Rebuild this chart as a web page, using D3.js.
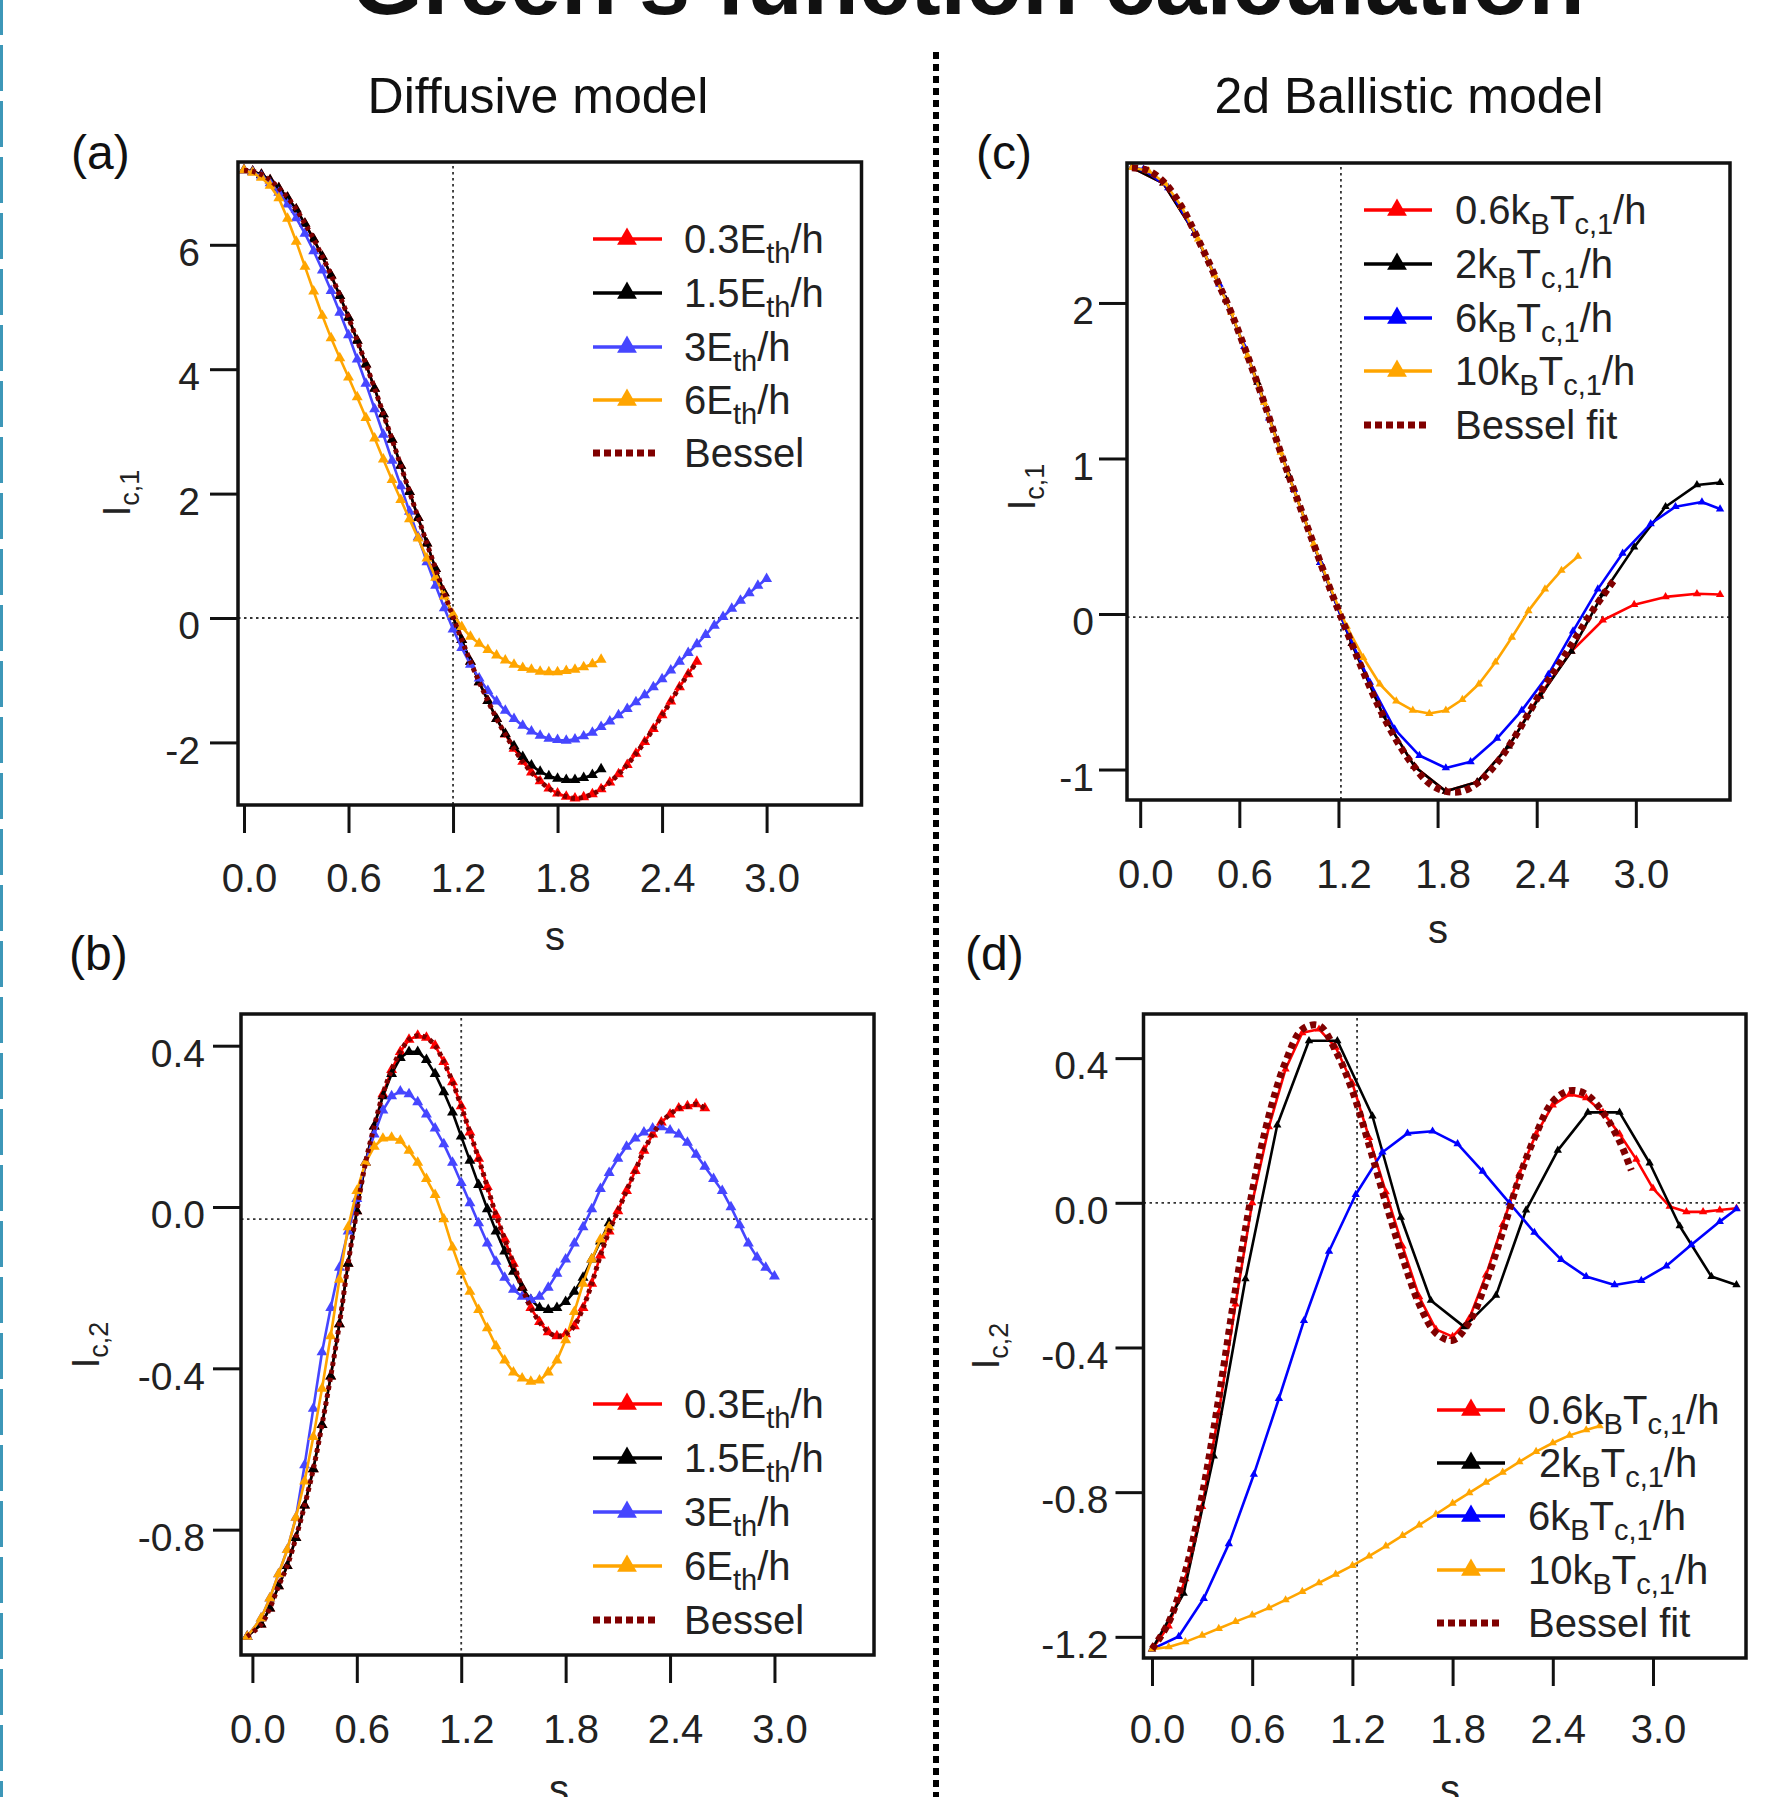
<!DOCTYPE html>
<html>
<head>
<meta charset="utf-8">
<script src="https://cdn.jsdelivr.net/npm/d3@7"></script>
<style>
  html, body { margin: 0; padding: 0; background: #fff; }
  svg { display: block; font-family: "Liberation Sans", Arial, Helvetica, sans-serif; }
  .ref { stroke: #333; stroke-width: 1.8; stroke-dasharray: 2.5 3.5; fill: none; }
</style>
</head>
<body>
<script>
// ---------- Data ----------

// Shared x ticks (s)
const xTicks = [0, 0.6, 1.2, 1.8, 2.4, 3.0];

// Panel (a): diffusive model, I_c,1 (s grid, step 0.05)
const sA = [0, 0.05, 0.1, 0.15, 0.2, 0.25, 0.3, 0.35, 0.4, 0.45, 0.5, 0.55, 0.6, 0.65, 0.7, 0.75, 0.8, 0.85, 0.9, 0.95,
  1, 1.05, 1.1, 1.15, 1.2, 1.25, 1.3, 1.35, 1.4, 1.45, 1.5, 1.55, 1.6, 1.65, 1.7, 1.75, 1.8, 1.85, 1.9, 1.95,
  2, 2.05, 2.1, 2.15, 2.2, 2.25, 2.3, 2.35, 2.4, 2.45, 2.5, 2.55, 2.6, 2.65, 2.7, 2.75, 2.8, 2.85, 2.9, 2.95, 3];
const aRed = [7.20, 7.18, 7.13, 7.04, 6.91, 6.76, 6.57, 6.34, 6.09, 5.81, 5.51, 5.18, 4.83, 4.46, 4.08, 3.69, 3.28, 2.87, 2.45, 2.03,
  1.61, 1.20, 0.79, 0.40, 0.02, -0.35, -0.70, -1.03, -1.33, -1.62, -1.87, -2.10, -2.31, -2.48, -2.62, -2.74, -2.82, -2.87, -2.90, -2.88,
  -2.83, -2.75, -2.64, -2.51, -2.36, -2.18, -1.99, -1.78, -1.56, -1.34, -1.11, -0.90, -0.70];
const aBlack = [7.20, 7.18, 7.13, 7.04, 6.91, 6.76, 6.57, 6.34, 6.09, 5.81, 5.51, 5.18, 4.83, 4.46, 4.08, 3.69, 3.28, 2.87, 2.45, 2.03,
  1.61, 1.20, 0.79, 0.40, 0.02, -0.35, -0.70, -1.03, -1.33, -1.62, -1.86, -2.06, -2.23, -2.37, -2.47, -2.54, -2.58, -2.60, -2.60, -2.57,
  -2.52, -2.43];
const aBlue = [7.20, 7.17, 7.10, 6.99, 6.84, 6.65, 6.43, 6.18, 5.90, 5.59, 5.26, 4.91, 4.55, 4.16, 3.77, 3.36, 2.95, 2.53, 2.12, 1.71,
  1.30, 0.90, 0.52, 0.16, -0.18, -0.48, -0.75, -0.97, -1.17, -1.34, -1.49, -1.62, -1.73, -1.82, -1.89, -1.94, -1.96, -1.97, -1.95, -1.90,
  -1.84, -1.75, -1.66, -1.56, -1.46, -1.35, -1.24, -1.11, -0.98, -0.84, -0.70, -0.56, -0.42, -0.27, -0.12, 0.02, 0.15, 0.28, 0.40, 0.52, 0.63];
const aOrange = [7.20, 7.16, 7.08, 6.95, 6.75, 6.42, 6.05, 5.65, 5.25, 4.86, 4.50, 4.18, 3.87, 3.55, 3.22, 2.89, 2.55, 2.22, 1.90, 1.59,
  1.28, 0.96, 0.65, 0.35, 0.06, -0.14, -0.30, -0.41, -0.51, -0.60, -0.68, -0.75, -0.80, -0.83, -0.86, -0.87, -0.87, -0.85, -0.83, -0.79,
  -0.74, -0.67];
const aBessel = [7.20, 7.18, 7.13, 7.04, 6.91, 6.76, 6.57, 6.34, 6.09, 5.81, 5.51, 5.18, 4.83, 4.46, 4.08, 3.69, 3.28, 2.87, 2.45, 2.03,
  1.61, 1.20, 0.79, 0.40, 0.02, -0.35, -0.70, -1.03, -1.33, -1.62, -1.87, -2.10, -2.31, -2.48, -2.62, -2.74, -2.82, -2.87, -2.90, -2.88,
  -2.83, -2.75, -2.64, -2.51, -2.36, -2.18, -1.99, -1.78, -1.56, -1.34, -1.11, -0.90, -0.70];
const yTicksA = [-2, 0, 2, 4, 6];

// Panel (b): diffusive model, I_c,2
const sB = [-0.03, 0.05, 0.1, 0.15, 0.2, 0.25, 0.3, 0.35, 0.4, 0.45, 0.5, 0.55, 0.6, 0.65, 0.7, 0.75, 0.8, 0.85, 0.9, 0.95,
  1, 1.05, 1.1, 1.15, 1.2, 1.25, 1.3, 1.35, 1.4, 1.45, 1.5, 1.55, 1.6, 1.65, 1.7, 1.75, 1.8, 1.85, 1.9, 1.95,
  2, 2.05, 2.1, 2.15, 2.2, 2.25, 2.3, 2.35, 2.4, 2.45, 2.5, 2.55, 2.6, 2.65, 2.7, 2.75, 2.8, 2.85, 2.9, 2.95, 3];
const bRed = [-1.065, -1.035, -0.995, -0.94, -0.89, -0.82, -0.74, -0.65, -0.54, -0.42, -0.29, -0.14, -0.01, 0.11, 0.20, 0.28, 0.34, 0.385, 0.415, 0.425,
  0.42, 0.40, 0.36, 0.31, 0.25, 0.185, 0.12, 0.05, -0.02, -0.08, -0.14, -0.20, -0.25, -0.285, -0.31, -0.32, -0.315, -0.295, -0.25, -0.19,
  -0.12, -0.06, -0.01, 0.04, 0.09, 0.14, 0.18, 0.21, 0.23, 0.245, 0.25, 0.255, 0.245];
const bBlack = [-1.065, -1.035, -0.995, -0.94, -0.89, -0.82, -0.74, -0.65, -0.54, -0.42, -0.29, -0.14, -0.01, 0.11, 0.20, 0.275, 0.33, 0.37, 0.385, 0.385,
  0.365, 0.33, 0.285, 0.235, 0.175, 0.115, 0.055, -0.005, -0.06, -0.11, -0.16, -0.20, -0.23, -0.25, -0.255, -0.25, -0.235, -0.21, -0.175, -0.13,
  -0.085, -0.04];
const bBlue = [-1.065, -1.02, -0.97, -0.91, -0.85, -0.77, -0.64, -0.50, -0.36, -0.25, -0.15, -0.06, 0.02, 0.11, 0.18, 0.24, 0.275, 0.287, 0.28, 0.26,
  0.23, 0.195, 0.156, 0.11, 0.06, 0.01, -0.04, -0.09, -0.135, -0.175, -0.205, -0.222, -0.23, -0.222, -0.20, -0.165, -0.13, -0.09, -0.05, -0.005,
  0.045, 0.085, 0.12, 0.15, 0.17, 0.185, 0.195, 0.198, 0.19, 0.18, 0.16, 0.13, 0.10, 0.07, 0.04, 0.00, -0.045, -0.09, -0.125, -0.15, -0.172];
const bOrange = [-1.065, -1.02, -0.97, -0.91, -0.85, -0.77, -0.68, -0.57, -0.45, -0.32, -0.18, -0.05, 0.04, 0.11, 0.15, 0.17, 0.172, 0.165, 0.14, 0.11,
  0.07, 0.03, -0.03, -0.10, -0.16, -0.21, -0.255, -0.30, -0.345, -0.38, -0.41, -0.425, -0.433, -0.43, -0.41, -0.38, -0.33, -0.26, -0.19, -0.13,
  -0.08, -0.05];
const bBessel = [-1.065, -1.035, -0.995, -0.94, -0.89, -0.82, -0.74, -0.65, -0.54, -0.42, -0.29, -0.14, -0.01, 0.11, 0.20, 0.28, 0.34, 0.385, 0.415, 0.425,
  0.42, 0.40, 0.36, 0.31, 0.25, 0.185, 0.12, 0.05, -0.02, -0.08, -0.14, -0.20, -0.25, -0.285, -0.31, -0.32, -0.315, -0.295, -0.25, -0.19,
  -0.12, -0.06, -0.01, 0.04, 0.09, 0.14, 0.18, 0.21, 0.23, 0.245, 0.25, 0.255, 0.245];
const yTicksB = [-0.8, -0.4, 0.0, 0.4];

// Panel (c): 2d ballistic model, I_c,1  ([s, value] pairs)
const cRed = [[-0.05, 2.87], [0.14, 2.77], [0.33, 2.45], [0.52, 2.02], [0.71, 1.49], [0.90, 0.89], [1.09, 0.33], [1.28, -0.19], [1.47, -0.65], [1.66, -0.98],
  [1.85, -1.14], [2.04, -1.08], [2.23, -0.85], [2.42, -0.52], [2.61, -0.24], [2.80, -0.04], [2.99, 0.06], [3.18, 0.11], [3.37, 0.13], [3.51, 0.125]];
const cBlack = [[-0.05, 2.87], [0.14, 2.77], [0.33, 2.45], [0.52, 2.02], [0.71, 1.49], [0.90, 0.89], [1.09, 0.33], [1.28, -0.19], [1.47, -0.65], [1.66, -0.98],
  [1.85, -1.14], [2.04, -1.08], [2.23, -0.85], [2.42, -0.53], [2.61, -0.24], [2.80, 0.13], [2.99, 0.43], [3.18, 0.69], [3.37, 0.83], [3.51, 0.845]];
const cBlue = [[-0.05, 2.87], [0.02, 2.86], [0.17, 2.74], [0.33, 2.45], [0.48, 2.12], [0.63, 1.72], [0.78, 1.26], [0.93, 0.80], [1.09, 0.33], [1.24, -0.08],
  [1.39, -0.44], [1.54, -0.74], [1.69, -0.91], [1.85, -0.99], [2.00, -0.95], [2.16, -0.80], [2.31, -0.62], [2.47, -0.39], [2.62, -0.11], [2.77, 0.16],
  [2.92, 0.39], [3.09, 0.58], [3.24, 0.69], [3.40, 0.72], [3.51, 0.675]];
const cOrange = [[-0.05, 2.87], [0.05, 2.85], [0.15, 2.77], [0.25, 2.62], [0.35, 2.41], [0.45, 2.18], [0.55, 1.94], [0.65, 1.66], [0.75, 1.36], [0.85, 1.04],
  [0.95, 0.74], [1.05, 0.45], [1.15, 0.17], [1.25, -0.08], [1.35, -0.28], [1.45, -0.45], [1.55, -0.56], [1.65, -0.62], [1.75, -0.64], [1.85, -0.62],
  [1.95, -0.55], [2.05, -0.45], [2.15, -0.31], [2.25, -0.15], [2.35, 0.02], [2.45, 0.16], [2.55, 0.28], [2.65, 0.37]];
const cBessel = [[-0.05, 2.87], [0.05, 2.85], [0.15, 2.77], [0.25, 2.62], [0.35, 2.41], [0.45, 2.18], [0.55, 1.94], [0.65, 1.66], [0.75, 1.36], [0.85, 1.04],
  [0.95, 0.74], [1.05, 0.45], [1.15, 0.16], [1.25, -0.11], [1.35, -0.37], [1.45, -0.61], [1.55, -0.81], [1.65, -0.97], [1.75, -1.09], [1.85, -1.14],
  [1.95, -1.14], [2.05, -1.08], [2.15, -0.97], [2.25, -0.82], [2.35, -0.64], [2.45, -0.46], [2.55, -0.30], [2.65, -0.13], [2.75, 0.04], [2.87, 0.22]];
const yTicksC = [-1, 0, 1, 2];

// Panel (d): 2d ballistic model, I_c,2  ([s, value] pairs)
const dRed = [[0, -1.234], [0.1, -1.17], [0.2, -1.04], [0.3, -0.84], [0.4, -0.58], [0.5, -0.28], [0.6, 0.0], [0.7, 0.21], [0.8, 0.37], [0.9, 0.47],
  [1.0, 0.48], [1.1, 0.43], [1.2, 0.33], [1.3, 0.18], [1.4, 0.03], [1.5, -0.12], [1.6, -0.26], [1.7, -0.35], [1.8, -0.37], [1.9, -0.32],
  [2.0, -0.20], [2.1, -0.06], [2.2, 0.08], [2.3, 0.19], [2.4, 0.27], [2.5, 0.30], [2.6, 0.29], [2.7, 0.25], [2.8, 0.19], [2.9, 0.12],
  [3.0, 0.04], [3.1, -0.01], [3.2, -0.025], [3.3, -0.025], [3.4, -0.02], [3.5, -0.015]];
const dBlack = [[0, -1.234], [0.19, -1.08], [0.37, -0.70], [0.56, -0.21], [0.75, 0.215], [0.94, 0.448], [1.11, 0.448], [1.32, 0.24], [1.49, -0.04], [1.67, -0.27],
  [1.87, -0.343], [2.06, -0.256], [2.24, -0.02], [2.43, 0.145], [2.61, 0.25], [2.80, 0.25], [2.98, 0.11], [3.16, -0.064], [3.35, -0.204], [3.50, -0.227]];
const dBlue = [[0, -1.234], [0.16, -1.199], [0.31, -1.094], [0.46, -0.943], [0.61, -0.751], [0.76, -0.541], [0.91, -0.326], [1.06, -0.134], [1.22, 0.023], [1.38, 0.140],
  [1.53, 0.192], [1.68, 0.198], [1.83, 0.163], [1.98, 0.087], [2.14, 0.0], [2.29, -0.082], [2.45, -0.157], [2.60, -0.204], [2.77, -0.227], [2.93, -0.215],
  [3.08, -0.175], [3.23, -0.116], [3.40, -0.052], [3.50, -0.017]];
const dOrange = [[0, -1.234], [0.1, -1.228], [0.2, -1.214], [0.3, -1.196], [0.4, -1.177], [0.5, -1.158], [0.6, -1.14], [0.7, -1.12], [0.8, -1.098], [0.9, -1.075],
  [1.0, -1.051], [1.1, -1.027], [1.2, -1.003], [1.3, -0.977], [1.4, -0.949], [1.5, -0.92], [1.6, -0.891], [1.7, -0.861], [1.8, -0.831], [1.9, -0.802],
  [2.0, -0.773], [2.1, -0.745], [2.2, -0.716], [2.3, -0.688], [2.4, -0.664], [2.5, -0.643], [2.6, -0.628], [2.68, -0.617]];
const dBessel = [[0, -1.234], [0.1, -1.16], [0.2, -1.02], [0.3, -0.81], [0.4, -0.54], [0.5, -0.24], [0.6, 0.03], [0.7, 0.24], [0.8, 0.39], [0.9, 0.48],
  [1.0, 0.49], [1.1, 0.42], [1.2, 0.31], [1.3, 0.16], [1.4, 0.0], [1.5, -0.15], [1.6, -0.28], [1.7, -0.36], [1.8, -0.38], [1.9, -0.33],
  [2.0, -0.22], [2.1, -0.08], [2.2, 0.07], [2.3, 0.19], [2.4, 0.28], [2.5, 0.31], [2.6, 0.30], [2.7, 0.25], [2.8, 0.17], [2.87, 0.09]];
const yTicksD = [-1.2, -0.8, -0.4, 0.0, 0.4];

// Legend texts ("_" marks a subscript part)
const diffLabels = [["0.3E", "_th", "/h"], ["1.5E", "_th", "/h"], ["3E", "_th", "/h"], ["6E", "_th", "/h"], ["Bessel"]];
const ballLabelsC = [["0.6k", "_B", "T", "_c,1", "/h"], ["2k", "_B", "T", "_c,1", "/h"], ["6k", "_B", "T", "_c,1", "/h"],
  ["10k", "_B", "T", "_c,1", "/h"], ["Bessel fit"]];
const ballLabelsD = [["0.6k", "_B", "T", "_c,1", "/h"], ["\u00a02k", "_B", "T", "_c,1", "/h"], ["6k", "_B", "T", "_c,1", "/h"],
  ["10k", "_B", "T", "_c,1", "/h"], ["Bessel fit"]];

// ---------- Drawing ----------
const W = 1780, H = 1797;
const RED = "#ff0000", BLACK = "#000000", ORANGE = "#ffa500", MAROON = "#800000";
const TXT = "#222";

const loc = d3.formatLocale({ decimal: ".", thousands: ",", grouping: [3], currency: ["", ""], minus: "-" });
const f1 = loc.format(".1f");
const f0 = loc.format("d");

const svg = d3.select("body").append("svg")
    .attr("width", W)
    .attr("height", H);

// Slide decorations: cut-off title, left dashed border, central dotted divider
svg.append("text")
    .attr("x", 968).attr("y", 14)
    .attr("text-anchor", "middle")
    .attr("font-size", 92).attr("font-weight", "bold")
    .attr("fill", "#111")
    .text("Green's function calculation");

svg.append("line")
    .attr("x1", 1.5).attr("x2", 1.5).attr("y1", 0).attr("y2", H)
    .attr("stroke", "#3d97b8").attr("stroke-width", 3)
    .attr("stroke-dasharray", "46 10").attr("stroke-dashoffset", 11);

svg.append("line")
    .attr("x1", 936).attr("x2", 936).attr("y1", 52).attr("y2", H)
    .attr("stroke", "#000").attr("stroke-width", 6)
    .attr("stroke-dasharray", "7 5");

// Column titles
svg.append("text").attr("x", 538).attr("y", 113).attr("text-anchor", "middle")
    .attr("font-size", 50).attr("fill", "#111").text("Diffusive model");
svg.append("text").attr("x", 1409).attr("y", 113).attr("text-anchor", "middle")
    .attr("font-size", 50).attr("fill", "#111").text("2d Ballistic model");

// Helper: pair grid values with their s positions
const onGrid = (grid, vals) => vals.map((v, i) => [grid[i], v]);

const panels = [
    {
        letter: "(a)", letterPos: [71, 169],
        box: [238, 861.5, 162, 805], xDom: [-0.0344, 3.5448], yDom: [-3.006, 7.331],
        yTicks: yTicksA, yFmt: f0, xLabBase: 892, yPad: 10,
        hRef: 0, vRef: 1.2,
        yLab: { x: 130, y: 493, sub: "c,1" }, sLab: [555, 950],
        legend: { x0: 593, x1: 662, mx: 627, tx: 684, rows: [239, 293, 347, 400, 453] },
        labels: diffLabels, mk: 52, lw: 2.6, bw: 5, bdash: "4 4",
        series: [
            { data: onGrid(sA, aRed), color: RED },
            { data: onGrid(sA, aBlack), color: BLACK },
            { data: onGrid(sA, aBlue), color: "#4646ff" },
            { data: onGrid(sA, aOrange), color: ORANGE },
            { data: onGrid(sA, aBessel), color: MAROON, dotted: true }
        ]
    },
    {
        letter: "(b)", letterPos: [69, 970],
        box: [241, 874, 1014, 1655], xDom: [-0.0655, 3.572], yDom: [-1.1108, 0.4786],
        yTicks: yTicksB, yFmt: f1, xLabBase: 1743, yPad: 8,
        hRef: -0.03, vRef: 1.2,
        yLab: { x: 99, y: 1345, sub: "c,2" }, sLab: [559, 1803],
        legend: { x0: 593, x1: 662, mx: 627, tx: 684, rows: [1404, 1458, 1512, 1566, 1620] },
        labels: diffLabels, mk: 52, lw: 2.6, bw: 5, bdash: "4 4",
        series: [
            { data: onGrid(sB, bRed), color: RED },
            { data: onGrid(sB, bBlack), color: BLACK },
            { data: onGrid(sB, bBlue), color: "#4646ff" },
            { data: onGrid(sB, bOrange), color: ORANGE },
            { data: onGrid(sB, bBessel), color: MAROON, dotted: true }
        ]
    },
    {
        letter: "(c)", letterPos: [976, 169],
        box: [1127, 1730, 163, 800], xDom: [-0.0799, 3.570], yDom: [-1.196, 2.900],
        yTicks: yTicksC, yFmt: f0, xLabBase: 888, yPad: 5,
        hRef: -0.02, vRef: 1.215,
        yLab: { x: 1035, y: 487, sub: "c,1" }, sLab: [1438, 943],
        legend: { x0: 1364, x1: 1432, mx: 1397, tx: 1455, rows: [210, 264, 318, 371, 425] },
        labels: ballLabelsC, mk: 30, lw: 2.6, bw: 7, bdash: "6 4.5",
        series: [
            { data: cRed, color: RED },
            { data: cBlack, color: BLACK },
            { data: cBlue, color: "#0000ff" },
            { data: cOrange, color: ORANGE },
            { data: cBessel, color: MAROON, dotted: true }
        ]
    },
    {
        letter: "(d)", letterPos: [965, 970],
        box: [1143.5, 1746, 1014, 1658], xDom: [-0.0509, 3.557], yDom: [-1.2585, 0.522],
        yTicks: yTicksD, yFmt: f1, xLabBase: 1743, yPad: 7,
        hRef: 0, vRef: 1.228,
        yLab: { x: 999, y: 1346, sub: "c,2" }, sLab: [1450, 1803],
        legend: { x0: 1437, x1: 1505, mx: 1471, tx: 1528, rows: [1410, 1463, 1516, 1570, 1623] },
        labels: ballLabelsD, mk: 30, lw: 2.6, bw: 7, bdash: "6 4.5",
        series: [
            { data: dRed, color: RED },
            { data: dBlack, color: BLACK },
            { data: dBlue, color: "#0000ff" },
            { data: dOrange, color: ORANGE },
            { data: dBessel, color: MAROON, dotted: true }
        ]
    }
];

// Function to write a label made of normal and subscript parts
function addRichText(sel, parts, size, subSize, drop) {
    let inSub = false;
    parts.forEach(part => {
        const isSub = part.startsWith("_");
        const ts = sel.append("tspan").text(isSub ? part.slice(1) : part);
        if (isSub) ts.attr("font-size", subSize);
        if (isSub && !inSub) ts.attr("dy", drop);
        if (!isSub && inSub) ts.attr("dy", -drop);
        inSub = isSub;
    });
}

// Function to draw one panel
function drawPanel(p) {
    const [l, r, t, b] = p.box;
    const x = d3.scaleLinear().domain(p.xDom).range([l, r]);
    const y = d3.scaleLinear().domain(p.yDom).range([b, t]);
    const g = svg.append("g");

    // Dotted reference lines
    g.append("line").attr("class", "ref")
        .attr("x1", l).attr("x2", r).attr("y1", y(p.hRef)).attr("y2", y(p.hRef));
    g.append("line").attr("class", "ref")
        .attr("x1", x(p.vRef)).attr("x2", x(p.vRef)).attr("y1", t + 4).attr("y2", b);

    // Curves and triangle markers
    const line = d3.line().x(d => x(d[0])).y(d => y(d[1]));
    p.series.forEach(s => {
        if (s.dotted) {
            g.append("path").datum(s.data)
                .attr("d", line.curve(d3.curveCatmullRom)(s.data))
                .attr("fill", "none")
                .attr("stroke", s.color)
                .attr("stroke-width", p.bw)
                .attr("stroke-dasharray", p.bdash);
            return;
        }
        g.append("path").datum(s.data)
            .attr("d", line.curve(d3.curveLinear)(s.data))
            .attr("fill", "none")
            .attr("stroke", s.color)
            .attr("stroke-width", p.lw)
            .attr("stroke-linejoin", "round");
        g.selectAll(null).data(s.data).enter().append("path")
            .attr("d", d3.symbol(d3.symbolTriangle, p.mk))
            .attr("transform", d => `translate(${x(d[0])},${y(d[1])})`)
            .attr("fill", s.color);
    });

    // Frame
    g.append("rect")
        .attr("x", l).attr("y", t).attr("width", r - l).attr("height", b - t)
        .attr("fill", "none").attr("stroke", "#111").attr("stroke-width", 3.5);

    // Bottom axis (ticks hang below the frame)
    const xPad = p.xLabBase - b - 28 - 0.71 * 40;
    g.append("g")
        .attr("transform", `translate(0,${b})`)
        .call(d3.axisBottom(x).tickValues(xTicks).tickSize(28).tickPadding(xPad).tickFormat(f1))
        .call(a => a.attr("font-size", null).attr("font-family", null))
        .call(a => a.select(".domain").remove())
        .call(a => a.selectAll(".tick line").attr("stroke", "#111").attr("stroke-width", 3))
        .call(a => a.selectAll(".tick text").attr("font-size", 40).attr("dx", 5).attr("fill", TXT));

    // Left axis
    g.append("g")
        .attr("transform", `translate(${l},0)`)
        .call(d3.axisLeft(y).tickValues(p.yTicks).tickSize(28).tickPadding(p.yPad).tickFormat(p.yFmt))
        .call(a => a.attr("font-size", null).attr("font-family", null))
        .call(a => a.select(".domain").remove())
        .call(a => a.selectAll(".tick line").attr("stroke", "#111").attr("stroke-width", 3))
        .call(a => a.selectAll(".tick text").attr("font-size", 39).attr("dy", "0.53em").attr("fill", TXT));

    // Axis titles
    g.append("text")
        .attr("x", p.sLab[0]).attr("y", p.sLab[1])
        .attr("text-anchor", "middle").attr("font-size", 40).attr("fill", TXT)
        .text("s");
    const yl = g.append("text")
        .attr("transform", `translate(${p.yLab.x},${p.yLab.y}) rotate(-90)`)
        .attr("text-anchor", "middle").attr("font-size", 38).attr("fill", TXT);
    addRichText(yl, ["I", "_" + p.yLab.sub], 38, 27, 9);

    // Panel letter
    svg.append("text")
        .attr("x", p.letterPos[0]).attr("y", p.letterPos[1])
        .attr("font-size", 48).attr("fill", "#111")
        .text(p.letter);

    // Legend
    const lg = p.legend;
    p.series.forEach((s, i) => {
        const ry = lg.rows[i];
        if (s.dotted) {
            g.append("line")
                .attr("x1", lg.x0).attr("x2", lg.x0 + 62).attr("y1", ry).attr("y2", ry)
                .attr("stroke", s.color).attr("stroke-width", 7).attr("stroke-dasharray", "7 4");
        } else {
            g.append("line")
                .attr("x1", lg.x0).attr("x2", lg.x1).attr("y1", ry).attr("y2", ry)
                .attr("stroke", s.color).attr("stroke-width", 3.5);
            g.append("path")
                .attr("d", d3.symbol(d3.symbolTriangle, 170))
                .attr("transform", `translate(${lg.mx},${ry})`)
                .attr("fill", s.color);
        }
        const tx = g.append("text")
            .attr("x", lg.tx).attr("y", ry + 14)
            .attr("font-size", 40).attr("fill", TXT);
        addRichText(tx, p.labels[i], 40, 29, 10);
    });
}

panels.forEach(drawPanel);
</script>
</body>
</html>
